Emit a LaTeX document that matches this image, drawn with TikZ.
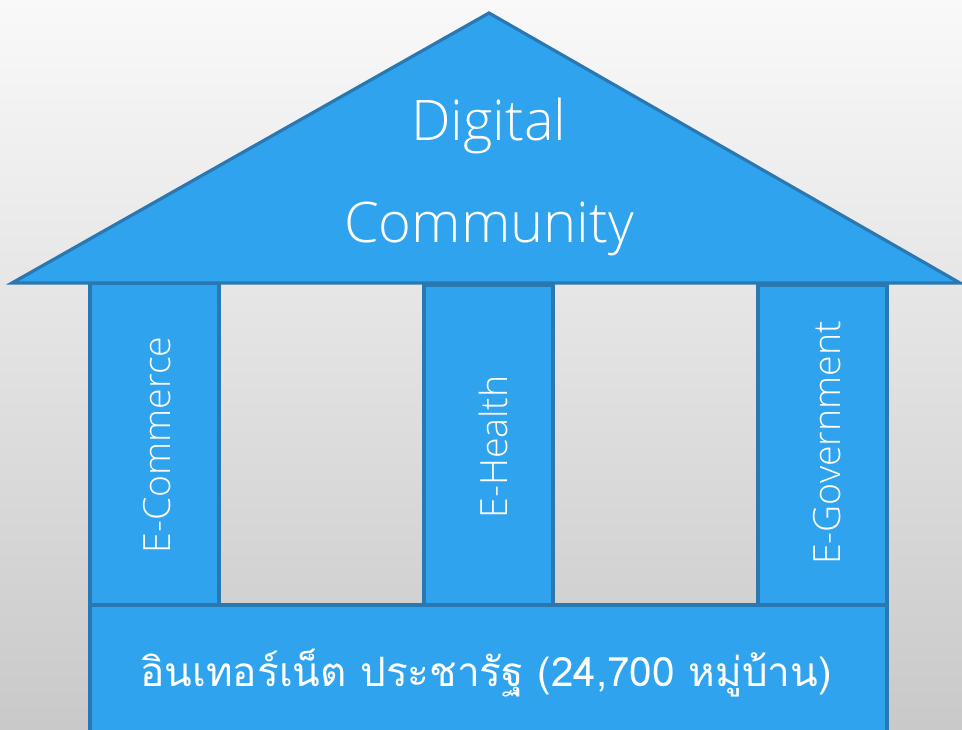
\documentclass[tikz,border=0pt]{standalone}
\usepackage{fontspec}
\setmainfont{Open Sans}[UprightFont=* Light]
\newfontfamily\thaifont[Script=Thai]{Loma}
\usetikzlibrary{positioning}
\definecolor{hfill}{HTML}{2FA3EE}
\definecolor{hline}{HTML}{2A78B2}
\definecolor{bgtop}{HTML}{F9F9F9}
\definecolor{bgbot}{HTML}{C9C9C9}
\tikzset{
  part/.style={fill=hfill, draw=hline, line width=3.2pt, line join=miter},
  vlabel/.style={text=white, font=\fontsize{37.5}{40}\selectfont, rotate=90, inner sep=0pt},
}
\begin{document}
\begin{tikzpicture}[x=1pt,y=-1pt]
\shade[top color=bgtop, bottom color=bgbot] (0,0) rectangle (962,729);
\useasboundingbox (0,0) rectangle (962,729);
% pillars
\draw[part] (90,283) rectangle (219,605);
\draw[part] (424,285) rectangle (553,605);
\draw[part] (758,285) rectangle (887,605);
% base
\draw[part] (90,605) rectangle (887,740);
% roof
\draw[part] (12,283) -- (489,13) -- (960,283) -- cycle;
% labels
\node[text=white, font=\fontsize{56}{58}\selectfont] (roof) at (489,126) {Digital};
\node[text=white, font=\fontsize{56}{58}\selectfont] (comm) at (489,229) {Community};
\node[vlabel] (ec) at (157,445) {E-Commerce};
\node[vlabel] (eh) at (493,447) {E-Health};
\node[vlabel] (eg) at (827,443) {E-Government};
\node[text=white, font=\thaifont\fontsize{40.5}{44}\selectfont, inner sep=0pt] (base) at (486,673) {อินเทอร์เน็ต ประชารัฐ (24,700 หมู่บ้าน)};
\end{tikzpicture}
\end{document}
